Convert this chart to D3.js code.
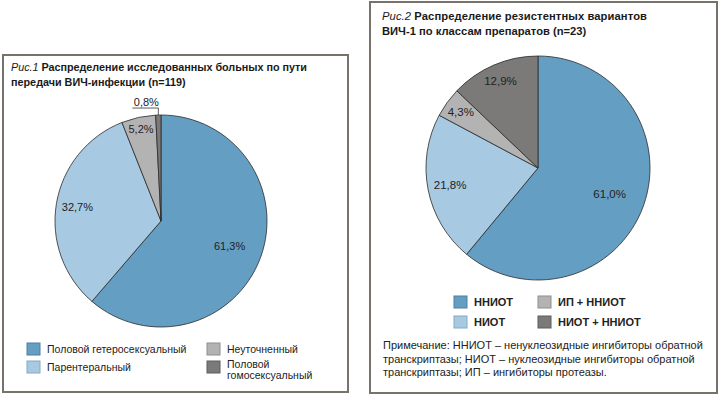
<!DOCTYPE html>
<html>
<head>
<meta charset="utf-8">
<script src="https://cdn.jsdelivr.net/npm/d3@7"></script>
<style>
  body { margin: 0; background: #fff; }
  svg { display: block; font-family: "Liberation Sans", Arial, sans-serif; }
</style>
</head>
<body>
<div id="chart"></div>
<script>
// data
var fig1Categories = ["Половой гетеросексуальный", "Парентеральный", "Неуточненный", "Половой гомосексуальный"];
var fig1Values = [61.3, 32.7, 5.2, 0.8];
var fig1Labels = ["61,3%", "32,7%", "5,2%", "0,8%"];

var fig2Categories = ["ННИОТ", "НИОТ", "ИП + ННИОТ", "НИОТ + ННИОТ"];
var fig2Values = [61.0, 21.8, 4.3, 12.9];
var fig2Labels = ["61,0%", "21,8%", "4,3%", "12,9%"];

var colors = ["#659ec3", "#a7c9e1", "#b4b3b4", "#7b7a79"];
var legendStroke = ["#4f7f9f", "#86a9c2", "#8f8e8f", "#5e5d5c"];

var w = 720, h = 394;
var svg = d3.select("#chart")
    .append("svg")
    .attr("width", w)
    .attr("height", h);

var color = d3.scaleOrdinal().domain(d3.range(4)).range(colors);

// panel frames
svg.append("rect")
    .attr("x", 3).attr("y", 55).attr("width", 345).attr("height", 337)
    .attr("fill", "none").attr("stroke", "#77736a").attr("stroke-width", 2);
svg.append("rect")
    .attr("x", 370).attr("y", 2).attr("width", 347).attr("height", 391)
    .attr("fill", "none").attr("stroke", "#77736a").attr("stroke-width", 2);

function title(x, y, fig, lines, size, len1) {
    var t = svg.append("text").attr("x", x).attr("y", y)
        .attr("font-size", size).attr("fill", "#1a1a1a")
        .attr("textLength", len1).attr("lengthAdjust", "spacing");
    t.append("tspan").attr("font-style", "italic").attr("font-weight", "normal").text(fig + " ");
    t.append("tspan").attr("font-weight", "bold").text(lines[0]);
    svg.append("text").attr("x", x).attr("y", y + 14.5)
        .attr("font-size", size).attr("font-weight", "bold").attr("fill", "#1a1a1a")
        .text(lines[1]);
}
title(11, 71, "Рис.1", ["Распределение исследованных больных по пути", "передачи ВИЧ-инфекции (n=119)"], 10.8, 296);
title(382, 20, "Рис.2", ["Распределение резистентных вариантов", "ВИЧ-1 по классам препаратов (n=23)"], 11.2, 265);

var pie = d3.pie().sort(null).value(function(d) { return d; });

function drawPie(cx, cy, r, values, labels, labelK, fs) {
    var g = svg.append("g").attr("transform", "translate(" + cx + "," + cy + ")");
    var arc = d3.arc().innerRadius(0).outerRadius(r);
    var arcs = pie(values);
    g.selectAll("path")
        .data(arcs)
        .enter()
        .append("path")
        .attr("d", arc)
        .attr("fill", function(d, i) { return color(i); })
        .attr("stroke", "#2b2b2b")
        .attr("stroke-width", 0.8)
        .attr("stroke-linejoin", "round");
    g.selectAll("text")
        .data(arcs)
        .enter()
        .append("text")
        .filter(function(d, i) { return labelK[i] != null; })
        .attr("transform", function(d, i) {
            var la = d3.arc().innerRadius(r * labelK[i]).outerRadius(r * labelK[i]);
            return "translate(" + la.centroid(d) + ")";
        })
        .attr("text-anchor", "middle")
        .attr("dy", "0.35em")
        .attr("font-size", fs)
        .attr("fill", "#222")
        .text(function(d, i) { return labels[i]; });
    return { g: g, arcs: arcs };
}

var p1 = drawPie(161, 221, 106, fig1Values, fig1Labels, [0.69, 0.8, 0.89, null], 11);
var p2 = drawPie(538, 168, 112, fig2Values, fig2Labels, [0.68, 0.8, 0.85, 0.85], 11.5);

// leader for the tiny 0,8% slice
var small = p1.arcs[3];
var mid = (small.startAngle + small.endAngle) / 2;
var ex = 106 * Math.sin(mid), ey = -106 * Math.cos(mid);
p1.g.append("path")
    .attr("d", "M" + ex + "," + ey + "V" + (ey - 7) + "H" + (ex - 26))
    .attr("fill", "none").attr("stroke", "#333").attr("stroke-width", 0.8);
p1.g.append("text")
    .attr("x", ex - 12).attr("y", ey - 9)
    .attr("text-anchor", "middle")
    .attr("font-size", 11).attr("fill", "#222")
    .text(fig1Labels[3]);

// legends
function legend(items, pos, bold) {
    items.forEach(function(name, i) {
        var p = pos[i];
        svg.append("rect")
            .attr("x", p[0]).attr("y", p[1]).attr("width", 13).attr("height", 12)
            .attr("fill", color(i)).attr("stroke", legendStroke[i]).attr("stroke-width", 1);
        var t = svg.append("text")
            .attr("x", p[0] + 19).attr("y", p[1] + 10)
            .attr("font-size", bold ? 11 : 10.5)
            .attr("font-weight", bold ? "bold" : "normal")
            .attr("fill", "#222");
        var words = p[2] ? name.split(" ") : [name];
        words.forEach(function(wd, k) {
            t.append("tspan").attr("x", p[0] + 20).attr("dy", k === 0 ? (p[2] ? -3 : 0) : 11).text(wd);
        });
    });
}
legend(fig1Categories, [[27, 343], [27, 361], [207, 343], [207, 361, true]], false);
legend(fig2Categories, [[454, 296], [454, 316], [538, 296], [538, 316]], true);

// note
var note = ["Примечание: ННИОТ – ненуклеозидные ингибиторы обратной",
            "транскриптазы; НИОТ – нуклеозидные ингибиторы обратной",
            "транскриптазы; ИП – ингибиторы протеазы."];
svg.selectAll(".note")
    .data(note)
    .enter()
    .append("text")
    .attr("class", "note")
    .attr("x", 383)
    .attr("y", function(d, i) { return 349 + i * 13.5; })
    .attr("font-size", 11)
    .attr("fill", "#222")
    .text(function(d) { return d; });
</script>
</body>
</html>
